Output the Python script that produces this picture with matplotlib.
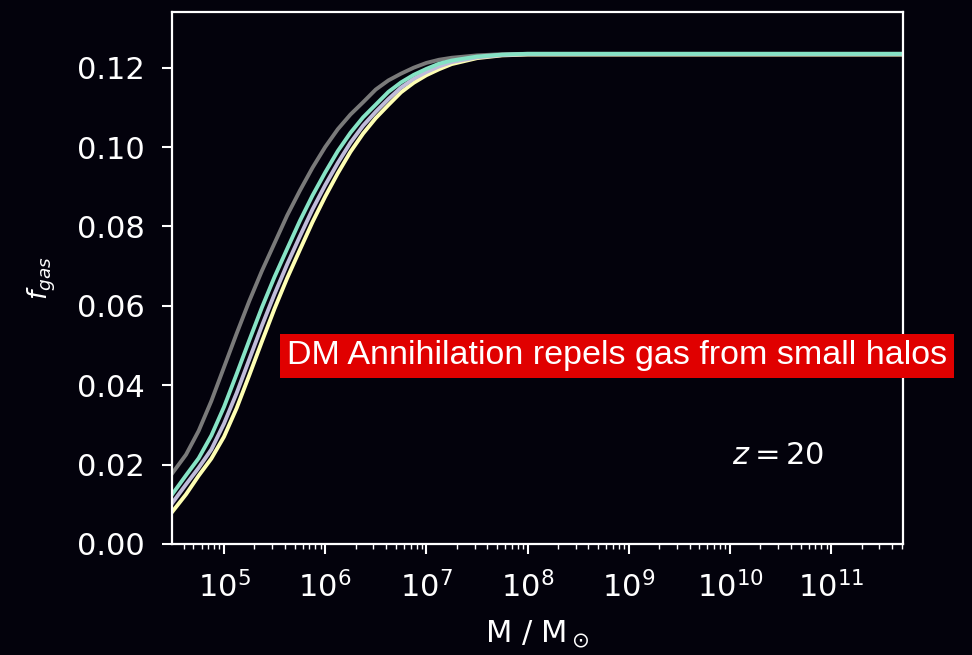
import numpy as np
import matplotlib
matplotlib.use("Agg")
import matplotlib.pyplot as plt

plt.rcParams["font.family"] = ["DejaVu Sans"]
plt.rcParams["mathtext.fontset"] = "dejavusans"

# log10(M / Msun) sample points
log_mass = [4.48, 4.625, 4.75, 4.875, 5.0, 5.125, 5.25, 5.375, 5.5, 5.625,
            5.75, 5.875, 6.0, 6.125, 6.25, 6.375, 6.5, 6.625, 6.75, 6.875,
            7.0, 7.125, 7.25, 7.5, 7.75, 8.0, 11.75]

f_gray = [0.0175, 0.0225, 0.0285, 0.0360, 0.0445, 0.0530, 0.0612, 0.0688,
          0.0758, 0.0828, 0.0890, 0.0948, 0.1000, 0.1045, 0.1082, 0.1113,
          0.1145, 0.1168, 0.1185, 0.1200, 0.1212, 0.1220, 0.1225, 0.1231,
          0.1234, 0.1235, 0.1235]
f_teal = [0.0122, 0.0173, 0.0216, 0.0273, 0.0345, 0.0428, 0.0513, 0.0596,
          0.0673, 0.0744, 0.0814, 0.0878, 0.0936, 0.0990, 0.1036, 0.1075,
          0.1107, 0.1139, 0.1163, 0.1182, 0.1197, 0.1210, 0.1218, 0.1228,
          0.1233, 0.1235, 0.1235]
f_lav = [0.0100, 0.0150, 0.0192, 0.0238, 0.0303, 0.0380, 0.0465, 0.0550,
         0.0630, 0.0705, 0.0775, 0.0843, 0.0904, 0.0960, 0.1011, 0.1054,
         0.1089, 0.1121, 0.1150, 0.1172, 0.1189, 0.1203, 0.1214, 0.1226,
         0.1232, 0.1234, 0.1234]
f_yel = [0.0078, 0.0125, 0.0172, 0.0215, 0.0270, 0.0342, 0.0425, 0.0510,
         0.0593, 0.0670, 0.0741, 0.0811, 0.0875, 0.0934, 0.0988, 0.1034,
         0.1073, 0.1106, 0.1138, 0.1162, 0.1181, 0.1196, 0.1209, 0.1224,
         0.1231, 0.1233, 0.1233]

yticks = [0.00, 0.02, 0.04, 0.06, 0.08, 0.10, 0.12]

bg = "#03020c"
fig = plt.figure(figsize=(9.72, 6.55), dpi=100, facecolor=bg)
ax = fig.add_axes([0.177, 0.1695, 0.752, 0.812], facecolor=bg)

M = 10 ** np.array(log_mass)
ax.plot(M, f_gray, color="#7a7a7a", lw=2.8, solid_joinstyle="round")
ax.plot(M, f_yel, color="#feffb3", lw=2.8, solid_joinstyle="round")
ax.plot(M, f_lav, color="#bfbbd9", lw=2.8, solid_joinstyle="round")
ax.plot(M, f_teal, color="#86e3c5", lw=2.8, solid_joinstyle="round")

ax.set_xscale("log")
ax.set_xlim(10 ** 4.487, 10 ** 11.71)
ax.set_ylim(0, 0.134)
ax.set_yticks(yticks)
ax.set_yticklabels([f"{v:.2f}" for v in yticks])

for s in ax.spines.values():
    s.set_color("white")
    s.set_linewidth(1.6)
ax.tick_params(colors="white", labelsize=22, width=1.5, length=7,
               pad=12.5, which="major")
ax.tick_params(colors="white", width=1.0, length=3.5, which="minor")

ax.set_xlabel(r"M / M$_\odot$", color="white", fontsize=22, labelpad=11)
ax.set_ylabel(r"$f_{gas}$", color="white", fontsize=19, labelpad=14)

ax.text(10 ** 10.48, 0.0224, r"$z = 20$", color="white", fontsize=22,
        ha="center", va="center")

fig.text(0.635, 0.4565, "DM Annihilation repels gas from small halos",
         color="white", fontsize=24.5, family="Liberation Sans",
         ha="center", va="center",
         bbox=dict(facecolor="#e00000", edgecolor="none", pad=5))

fig.savefig("out.png", dpi=100, facecolor=bg)
